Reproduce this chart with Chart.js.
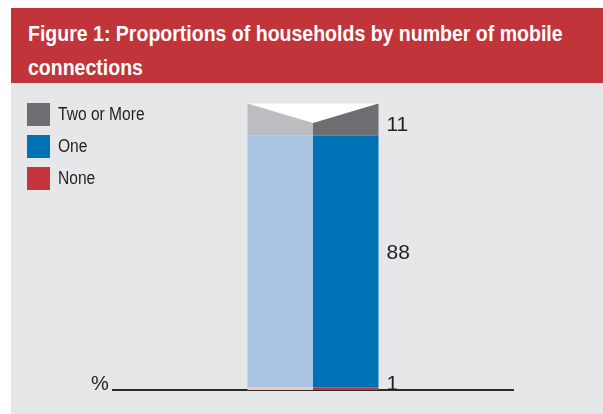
<!DOCTYPE html>
<html>
<head>
<meta charset="utf-8">
<script src="https://cdn.jsdelivr.net/npm/chart.js@4/dist/chart.umd.min.js"></script>
<style>
  html, body { margin: 0; padding: 0; background: #ffffff; }
  body { width: 603px; height: 414px; position: relative; overflow: hidden; }
  #header {
    position: absolute; left: 11px; top: 8px; width: 592px; height: 75px;
    background: #c1343a; color: #ffffff; box-sizing: border-box;
    padding: 9px 0 0 17px;
    font-family: "Liberation Sans", Arial, sans-serif;
    font-weight: bold; font-size: 22px; line-height: 34px;
  }
  #header span { display: block; white-space: nowrap; transform-origin: 0 50%; }
  #panel {
    position: absolute; left: 11px; top: 83px; width: 592px; height: 331px;
    background: #e6e7e9;
  }
  #legend {
    position: absolute; left: 16px; top: 15.5px;
    font-family: "Liberation Sans", Arial, sans-serif;
    font-size: 17.5px; color: #231f20;
  }
  .item { display: flex; align-items: center; height: 32px; }
  .swatch { width: 23px; height: 23px; margin-right: 8px; flex: none; }
  .name { display: inline-block; white-space: nowrap; transform: scaleX(0.89); transform-origin: 0 50%; }
</style>
</head>
<body>
<div id="header"><span>Figure 1: Proportions of households by number of mobile</span><span>connections</span></div>
<div id="panel">
  <canvas id="chart"></canvas>
  <div id="legend"></div>
</div>
<script>
const categories = ["Households"];
const seriesLabels = ["None", "One", "Two or More"];
const none = [1];
const one = [88];
const twoOrMore = [11];
const seriesValues = [none, one, twoOrMore];

// dark right-hand face and pale left-hand face of the block
const darkColors = ["#c4343a", "#0071b4", "#6d6e71"];
const paleColors = ["#f0c8bb", "#a9c3e2", "#bcbdc0"];

// squeeze the title into a condensed look
const titleLines = document.querySelectorAll("#header span");
const firstWidth = titleLines[0].scrollWidth;
const squeeze = 535 / firstWidth;
titleLines.forEach(s => { s.style.transform = "scaleX(" + squeeze + ")"; });

const legendBox = document.getElementById("legend");
for (let i = seriesLabels.length - 1; i >= 0; i--) {
  const row = document.createElement("div");
  row.className = "item";
  row.innerHTML = '<span class="swatch" style="background:' + darkColors[i] + '"></span><span class="name">' + seriesLabels[i] + '</span>';
  legendBox.appendChild(row);
}

const datasets = [];
[["pale", paleColors], ["dark", darkColors]].forEach(([face, colors]) => {
  seriesLabels.forEach((label, i) => {
    datasets.push({
      label: label,
      data: seriesValues[i],
      backgroundColor: colors[i],
      stack: face,
      borderWidth: 0,
      barPercentage: 1,
      categoryPercentage: 0.3275
    });
  });
});

// white notch across the top of the block, value labels and the % unit
const blockDecor = {
  id: "blockDecor",
  afterDatasetsDraw(chart) {
    const ctx = chart.ctx;
    const n = seriesLabels.length;
    const leftTop = chart.getDatasetMeta(n - 1).data[0];
    const rightTop = chart.getDatasetMeta(2 * n - 1).data[0];
    const x0 = leftTop.x - leftTop.width / 2;
    const x1 = rightTop.x + rightTop.width / 2;
    const xm = rightTop.x - rightTop.width / 2;
    const top = Math.min(leftTop.y, rightTop.y);
    ctx.save();
    ctx.fillStyle = "#ffffff";
    ctx.beginPath();
    ctx.moveTo(x0, top - 0.5);
    ctx.lineTo(x1, top - 0.5);
    ctx.lineTo(xm, top + 19);
    ctx.closePath();
    ctx.fill();

    ctx.fillStyle = "#231f20";
    ctx.font = "21px 'Liberation Sans', Arial, sans-serif";
    ctx.textAlign = "left";
    const nudge = { "One": -8, "Two or More": 5 };
    for (let i = 0; i < n; i++) {
      const el = chart.getDatasetMeta(n + i).data[0];
      const value = chart.data.datasets[n + i].data[0];
      let y = (el.y + el.base) / 2 + (nudge[seriesLabels[i]] || 0);
      ctx.textBaseline = "middle";
      if (y + 8 > el.base) {
        y = el.base;
        ctx.textBaseline = "alphabetic";
      }
      ctx.fillText(String(value), x1 + 8, y);
    }

    const area = chart.chartArea;
    ctx.font = "20px 'Liberation Sans', Arial, sans-serif";
    ctx.textAlign = "left";
    ctx.textBaseline = "alphabetic";
    ctx.fillText("%", area.left - 22, area.bottom);
    ctx.restore();
  }
};

new Chart(document.getElementById("chart"), {
  type: "bar",
  data: { labels: categories, datasets: datasets },
  options: {
    responsive: true,
    maintainAspectRatio: false,
    animation: false,
    layout: { padding: { left: 102, right: 90, top: 21, bottom: 24 } },
    plugins: {
      legend: { display: false },
      tooltip: { enabled: false }
    },
    scales: {
      x: {
        stacked: true,
        grid: { display: false, drawTicks: false },
        ticks: { display: false },
        border: { display: true, color: "#2b2b2b", width: 2 }
      },
      y: {
        stacked: true,
        display: false,
        min: 0,
        max: 100
      }
    }
  },
  plugins: [blockDecor]
});
</script>
</body>
</html>
